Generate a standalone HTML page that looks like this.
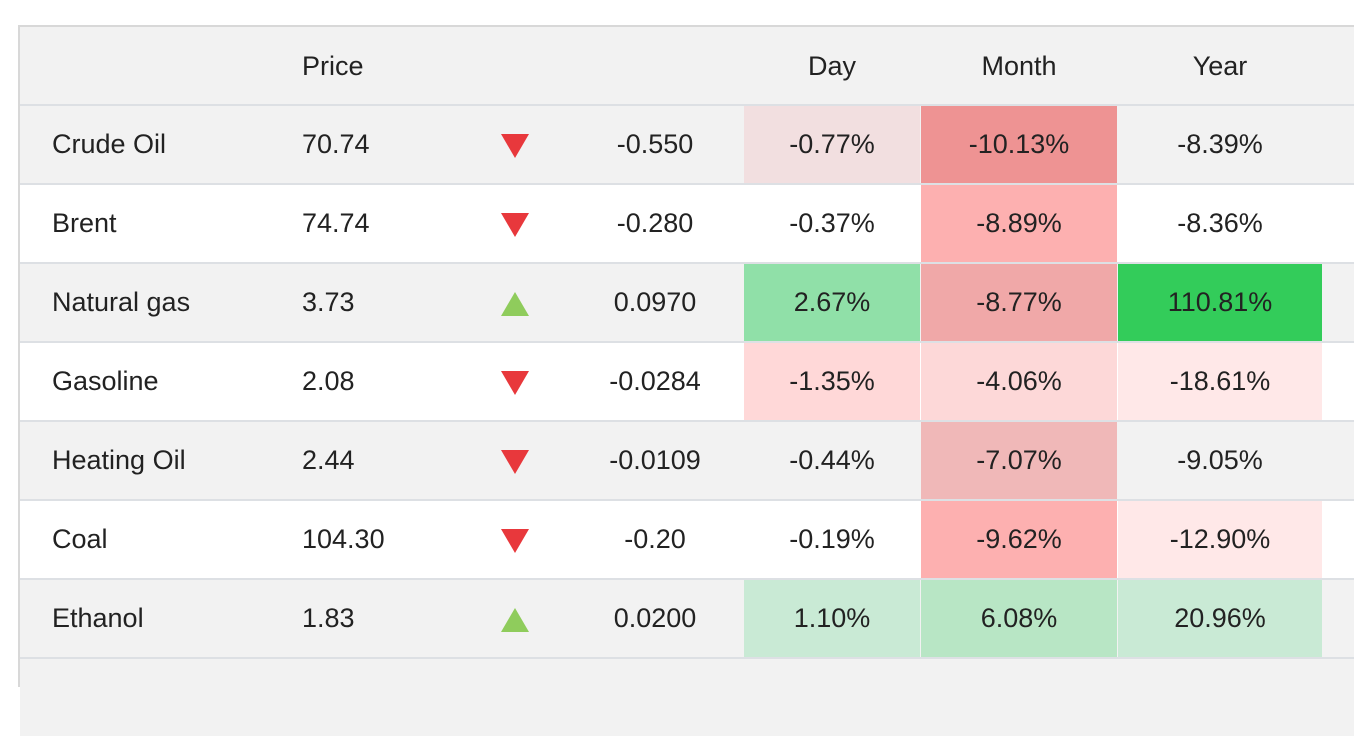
<!DOCTYPE html>
<html><head><meta charset="utf-8"><style>
body{margin:0;width:1354px;height:667px;background:#fff;overflow:hidden;font-family:"Liberation Sans",sans-serif;color:#222;position:relative}
.tbl{position:absolute;left:18px;top:25px;width:1340px;height:660px;border-left:2px solid #d8d8d8;border-top:2px solid #d8d8d8;background:#f2f2f2}
.row{position:absolute;left:0;width:1340px;height:77px;border-top:2px solid #dde0e4}
.c{position:absolute;top:0;height:77px;line-height:77px;font-size:27px}
.arrow{position:absolute;left:481px;top:28px;width:0;height:0;border-left:14px solid transparent;border-right:14px solid transparent}
.dn{border-top:24px solid #e8383c}
.up{border-bottom:24px solid #8fcc5c}
</style></head><body>
<div class="tbl" id="t">
<div class="c" style="left:282px;top:0;height:78px;line-height:78px">Price</div>
<div class="c" style="left:724px;width:176px;text-align:center;height:78px;line-height:78px">Day</div>
<div class="c" style="left:901px;width:196px;text-align:center;height:78px;line-height:78px">Month</div>
<div class="c" style="left:1098px;width:204px;text-align:center;height:78px;line-height:78px">Year</div>
</div>
<script>
const names=["Crude Oil","Brent","Natural gas","Gasoline","Heating Oil","Coal","Ethanol"];
const prices=["70.74","74.74","3.73","2.08","2.44","104.30","1.83"];
const changes=["-0.550","-0.280","0.0970","-0.0284","-0.0109","-0.20","0.0200"];
const day=["-0.77%","-0.37%","2.67%","-1.35%","-0.44%","-0.19%","1.10%"];
const month=["-10.13%","-8.89%","-8.77%","-4.06%","-7.07%","-9.62%","6.08%"];
const year=["-8.39%","-8.36%","110.81%","-18.61%","-9.05%","-12.90%","20.96%"];
const dayBg=["#f2dfe0","","#90e0a8","#ffd8d8","","","#c9ead5"];
const monthBg=["#ee9393","#fdb0b0","#f0a8a8","#fdd8d8","#f0b8b8","#fdb0b0","#b8e6c5"];
const yearBg=["","","#33cc5a","#ffe8e8","","#ffe8e8","#c9ead5"];
const t=document.getElementById('t');
names.forEach((n,i)=>{
 const r=document.createElement('div');r.className='row';
 
 
 r.style.top=(77+79*i)+'px';r.style.background=i%2?'#fff':'#f2f2f2';
 const cell=(txt,left,w,bg,name,align)=>{const d=document.createElement('div');d.className='c';d.textContent=txt;
  d.style.left=left+'px';if(w){d.style.width=w+'px';d.style.textAlign=align||'center'}if(bg)d.style.background=bg;
  
  
  r.appendChild(d);};
 cell(n,32,0,'','name-cell');
 cell(prices[i],282,0,'','price-cell');
 const a=document.createElement('div');a.className='arrow '+(changes[i].startsWith('-')?'dn':'up');
 
 
 r.appendChild(a);
 cell(changes[i],560,150,'','change-cell');
 cell(day[i],724,176,dayBg[i],'day-cell');
 cell(month[i],901,196,monthBg[i],'month-cell');
 cell(year[i],1098,204,yearBg[i],'year-cell');
 t.appendChild(r);
});
const b=document.createElement('div');b.className='row';b.style.top=(77+79*7)+'px';b.style.background='#f2f2f2';


t.appendChild(b);
</script>
</body></html>
